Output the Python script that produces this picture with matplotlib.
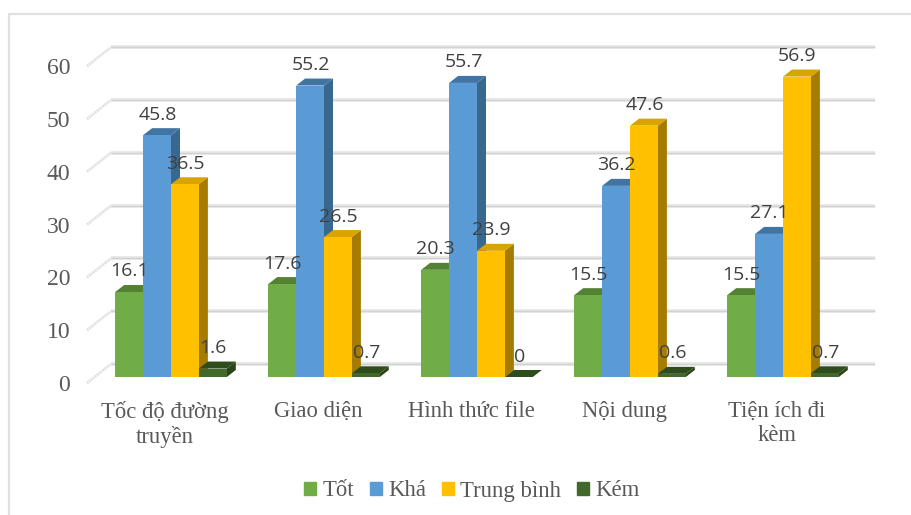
import matplotlib
matplotlib.use('Agg')
import matplotlib.pyplot as plt
from matplotlib.lines import Line2D
from matplotlib.patches import Patch
from matplotlib.transforms import ScaledTranslation

categories = ['Tốc độ đường\ntruyền', 'Giao diện', 'Hình thức file', 'Nội dung', 'Tiện ích đi\nkèm']
series_names = ['Tốt', 'Khá', 'Trung bình', 'Kém']
tot = [16.1, 17.6, 20.3, 15.5, 15.5]
kha = [45.8, 55.2, 55.7, 36.2, 27.1]
trung_binh = [36.5, 26.5, 23.9, 47.6, 56.9]
kem = [1.6, 0.7, 0, 0.6, 0.7]
yticks = [0, 10, 20, 30, 40, 50, 60]

front = ['#70ad47', '#5b9bd5', '#ffc000', '#43682b']
top = ['#548235', '#3f74a3', '#d9a300', '#2f4c1d']
side = ['#4f7a32', '#386890', '#a67c00', '#2b4519']

W, H = 912, 515
fig = plt.figure(figsize=(W / 100, H / 100), dpi=100)
fig.patch.set_facecolor('white')
# chart frame: only the top and left edges are inside the crop
fig.add_artist(Line2D([9 / W, 9 / W, 1], [0, 1 - 14.5 / H, 1 - 14.5 / H], color='#e0e0e0', lw=1.6))

# axes: front of the floor at pixel y=377, 5.28 px per unit, 153 px per group
ax = fig.add_axes([87 / W, (H - 377) / H, (875 - 87) / W, 60 * 5.28 / H])
ax.set_xlim((87 - 171) / 153, (875 - 171) / 153)
ax.set_ylim(0, 60)
ax.patch.set_alpha(0)
for s in ax.spines.values():
    s.set_visible(False)

px = 1 / 153  # one pixel in x data units
py = 1 / 5.28  # one pixel in y data units
bar_w = 27.9 * px
dx = 9 * px
dy = 7 * py

# back wall gridlines and the little slanted stubs on the left
x_left = ax.get_xlim()[0]
x_back = x_left + 24 * px
x_right = ax.get_xlim()[1]
for v in yticks:
    ax.plot([x_back, x_right], [v + 13 * py, v + 13 * py], color='#e4e4e4', lw=2.6, zorder=1,
            clip_on=False, solid_capstyle='butt')
    ax.plot([x_back, x_right], [v + 13 * py, v + 13 * py], color='#d2d2d2', lw=0.8, zorder=1.1,
            clip_on=False, solid_capstyle='butt')
    ax.plot([x_left, x_back], [v - 6 * py, v + 13 * py], color='#dedede', lw=2, ls=(0, (0.6, 0.3)),
            zorder=1, clip_on=False)

all_values = [tot, kha, trung_binh, kem]
z = 2
for g in range(len(categories)):
    for s in range(4):
        v = all_values[s][g]
        x0 = g + (s - 2) * bar_w
        x1 = x0 + bar_w
        ax.fill([x1, x1 + dx, x1 + dx, x1], [0, dy, v + dy, v], color=side[s], lw=0, zorder=z, clip_on=False)
        ax.fill([x0, x1, x1 + dx, x0 + dx], [v, v, v + dy, v + dy], color=top[s], lw=0, zorder=z, clip_on=False)
        ax.bar(x0, v, width=bar_w, align='edge', color=front[s], lw=0, zorder=z + 0.5, clip_on=False)
        z += 1

# data labels
for s in range(4):
    for g in range(len(categories)):
        v = all_values[s][g]
        ax.text(g + (s - 1.5) * bar_w + 0.5 * px, v + 20.5 * py, str(v), ha='center', va='center', fontsize=14,
                family='Open Sans', color='#404040', zorder=100, clip_on=False)

ax.set_xticks(range(len(categories)))
ax.set_xticklabels(categories, family='Liberation Serif', fontsize=16.3, color='#595959', linespacing=1.2)
ax.set_yticks(yticks)
ax.set_yticklabels([str(t) for t in yticks], family='Liberation Serif', fontsize=17, color='#595959')
ax.tick_params(axis='both', length=0)
ax.tick_params(axis='x', pad=17)
ax.tick_params(axis='y', pad=12)

# Excel puts the labels on the front ends of the stubs, and a bit left of group centre
down = ScaledTranslation(0, -6 / 100, fig.dpi_scale_trans)
for lab in ax.get_yticklabels():
    lab.set_transform(lab.get_transform() + down)
left = ScaledTranslation(-6 / 100, 0, fig.dpi_scale_trans)
for lab in ax.get_xticklabels():
    lab.set_transform(lab.get_transform() + left)

handles = [Patch(color=c, label=n) for c, n in zip(front, series_names)]
ax.legend(handles=handles, ncol=4, frameon=False, loc='center', bbox_to_anchor=(472 / W, (H - 491) / H),
          bbox_transform=fig.transFigure, prop={'family': 'Liberation Serif', 'size': 16.4},
          labelcolor='#595959', handlelength=0.53, handleheight=0.53, handletextpad=0.27, columnspacing=0.7)

plt.savefig('out.png', dpi=100)
